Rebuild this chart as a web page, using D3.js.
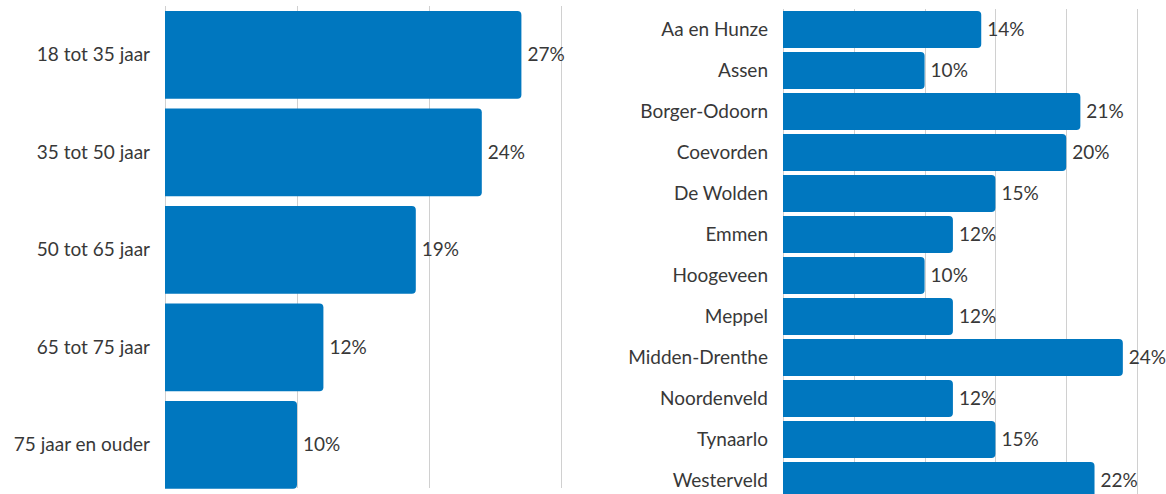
<!DOCTYPE html>
<html>
<head>
<meta charset="utf-8">
<script src="https://cdn.jsdelivr.net/npm/d3@7"></script>
<style>
  body { margin: 0; background: #fff; }
  svg { display: block; }
  text { font-family: Lato, sans-serif; font-size: 19px; fill: #383838; }
</style>
</head>
<body>
<svg id="chart" width="1166" height="494"></svg>
<script>
// age groups (left)
var ageLabels = ["18 tot 35 jaar", "35 tot 50 jaar", "50 tot 65 jaar", "65 tot 75 jaar", "75 jaar en ouder"];
var ageValues = [27, 24, 19, 12, 10];
var ageTicks = [0, 10, 20, 30];

// municipalities (right)
var gemLabels = ["Aa en Hunze", "Assen", "Borger-Odoorn", "Coevorden", "De Wolden", "Emmen",
                 "Hoogeveen", "Meppel", "Midden-Drenthe", "Noordenveld", "Tynaarlo", "Westerveld"];
var gemValues = [14, 10, 21, 20, 15, 12, 10, 12, 24, 12, 15, 22];
var gemTicks = [0, 5, 10, 15, 20, 25];

var svg = d3.select("#chart");
var barColor = "#0077bf";

// bar with rounded right corners only
function barPath(x0, x1, y, h, r) {
  r = Math.min(r, (x1 - x0) / 2, h / 2);
  return "M" + x0 + "," + y +
    "H" + (x1 - r) +
    "Q" + x1 + "," + y + " " + x1 + "," + (y + r) +
    "V" + (y + h - r) +
    "Q" + x1 + "," + (y + h) + " " + (x1 - r) + "," + (y + h) +
    "H" + x0 + "Z";
}

function drawChart(opts) {
  var x = d3.scaleLinear().domain(opts.domain).range([opts.left, opts.right]);
  var y = d3.scaleBand().domain(opts.labels).range([opts.top, opts.bottom]).paddingInner(opts.pad).paddingOuter(opts.pad / 2);
  var g = svg.append("g");

  g.selectAll(".grid").data(opts.ticks).enter().append("line")
    .attr("x1", d => Math.round(x(d)) + 0.5)
    .attr("x2", d => Math.round(x(d)) + 0.5)
    .attr("y1", opts.top)
    .attr("y2", opts.gridBottom)
    .attr("stroke", "#d0d0d0")
    .attr("stroke-width", 1);

  var data = opts.labels.map((l, i) => ({ label: l, value: opts.values[i] }));

  g.selectAll(".bar").data(data).enter().append("path")
    .attr("d", d => barPath(x(0), x(d.value), y(d.label), y.bandwidth(), 4))
    .attr("fill", barColor);

  g.selectAll(".val").data(data).enter().append("text")
    .attr("x", d => x(d.value) + 6)
    .attr("y", d => y(d.label) + y.bandwidth() / 2)
    .attr("dy", "0.35em")
    .text(d => d.value + "%");

  g.selectAll(".cat").data(data).enter().append("text")
    .attr("x", opts.left - 15)
    .attr("y", d => y(d.label) + y.bandwidth() / 2)
    .attr("dy", "0.35em")
    .attr("text-anchor", "end")
    .text(d => d.label);
}

drawChart({
  labels: ageLabels, values: ageValues, ticks: ageTicks,
  domain: [0, 30], left: 165, right: 561,
  top: 6, bottom: 493.5, pad: 0.1, gridBottom: 488
});

drawChart({
  labels: gemLabels, values: gemValues, ticks: gemTicks,
  domain: [0, 25], left: 783, right: 1137,
  top: 9, bottom: 501, pad: 0.1, gridBottom: 494
});
</script>
</body>
</html>
